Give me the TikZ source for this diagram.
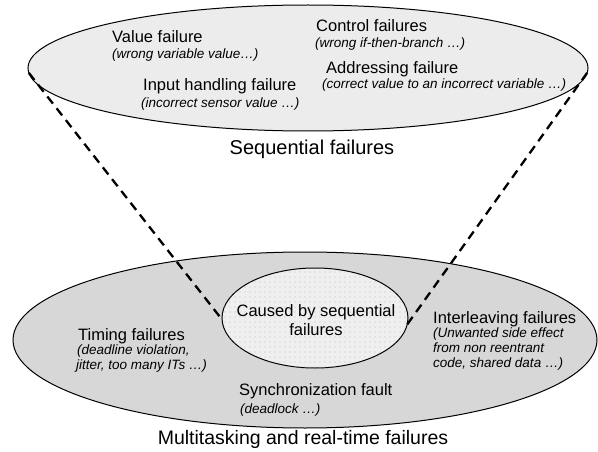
\documentclass[tikz,border=0pt]{standalone}
\usepackage{fontspec}
\setmainfont{Liberation Sans}
\usetikzlibrary{shapes.geometric,patterns.meta}
\definecolor{seqfill}{HTML}{ECECEC}
\definecolor{mtfill}{HTML}{D7D7D7}
\definecolor{cbsfill}{HTML}{EFEFEF}
\definecolor{dotcol}{HTML}{BDBDBD}
\begin{document}
\begin{tikzpicture}[x=1pt,y=-1pt,
  ell/.style={ellipse, draw=black, line width=1pt, inner sep=0pt, outer sep=0pt},
  ttl/.style={font=\fontsize{16.5}{19}\selectfont, inner sep=0pt, anchor=base west},
  sub/.style={font=\fontsize{13.5}{15}\selectfont\itshape, inner sep=0pt, anchor=base west},
  captxt/.style={font=\fontsize{20}{23}\selectfont, inner sep=0pt, anchor=base},
  dashline/.style={line width=2.3pt, dash pattern=on 9pt off 6pt}]
\useasboundingbox (0,0) rectangle (598,452);
\node[ell, fill=seqfill, minimum width=560pt, minimum height=126pt] (seq) at (308,68) {};
\node[ell, fill=mtfill, minimum width=584pt, minimum height=176pt] (mt) at (305,340) {};
\node[ell, fill=cbsfill, minimum width=186pt, minimum height=100pt,
  postaction={pattern={Dots[distance=5pt, radius=0.7pt]}, pattern color=dotcol}] (cbs) at (315,318) {};
\draw[dashline] (seq.181) -- (cbs.181);
\draw[dashline] (seq.359) -- (cbs.356);
% top texts
\node[ttl] (vf) at (112,43) {Value failure};
\node[sub] (vfd) at (112,59) {(wrong variable value…)};
\node[ttl] (cf) at (316,32) {Control failures};
\node[sub] (cfd) at (315,48) {(wrong if-then-branch …)};
\node[ttl] (af) at (326,74) {Addressing failure};
\node[sub] (afd) at (322,89) {(correct value to an incorrect variable …)};
\node[ttl] (ih) at (143,91) {Input handling failure};
\node[sub] (ihd) at (141,107) {(incorrect sensor value …)};
\node[captxt] (seql) at (312,154) {Sequential failures};
% bottom texts
\node[ttl] (tf) at (78,340) {Timing failures};
\node[sub] (tf1) at (77,354) {(deadline violation,};
\node[sub] (tf2) at (76,369) {jitter, too many ITs …)};
\node[ttl] (il) at (433,323) {Interleaving failures};
\node[sub] (il1) at (433,337) {(Unwanted side effect};
\node[sub] (il2) at (433,352) {from non reentrant};
\node[sub] (il3) at (433,367) {code, shared data …)};
\node[ttl] (sy) at (239,395) {Synchronization fault};
\node[sub] (sy1) at (240,413) {(deadlock …)};
\node[ttl, anchor=base] (c1) at (316,316) {Caused by sequential};
\node[ttl, anchor=base] (c2) at (316,335) {failures};
\node[captxt, font=\fontsize{19.5}{22}\selectfont] (mtl) at (303,444) {Multitasking and real-time failures};
\end{tikzpicture}
\end{document}
